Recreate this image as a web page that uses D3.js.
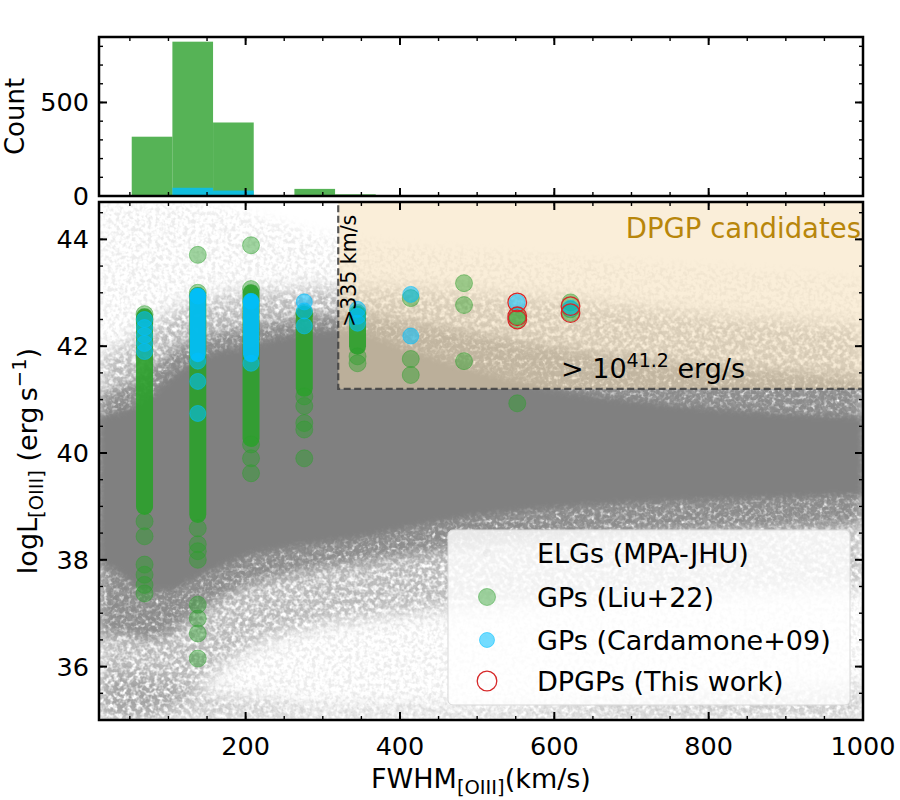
<!DOCTYPE html>
<html><head><meta charset="utf-8">
<script src="https://cdn.jsdelivr.net/npm/d3@7"></script>
<style>body{margin:0;background:#fff}svg{font-family:"DejaVu Sans",sans-serif}</style>
</head><body><svg id="c" width="900" height="800"></svg>
<script>
// ---------------- data ----------------
const histEdges = [52.4, 105.1, 157.8, 210.5, 263.2, 315.9, 368.6, 421.3, 474.0, 526.7, 579.4, 632.1];
const histLiu   = [317, 825, 393, 0, 38, 9, 4, 0, 3, 4, 3];
const histCard  = [0, 44, 29, 0, 3, 3, 2, 0, 0, 1, 1];

// ELG (MPA-JHU) cloud envelopes, logL vs FWHM (density levels)
const elgFwhm    = [10, 40, 70, 100, 130, 160, 200, 250, 300, 350, 400, 500, 600, 700, 800, 900, 1000];
const elgCoreHi  = [40.7, 40.8, 41.0, 41.4, 41.7, 41.9, 42.0, 42.2, 42.3, 42.25, 42.0, 41.55, 41.2, 41.0, 40.85, 40.75, 40.7];
const elgCoreLo  = [37.95, 37.7, 37.4, 37.4, 37.6, 37.8, 38.05, 38.2, 38.3, 38.4, 38.55, 38.8, 38.95, 39.05, 39.1, 39.15, 39.2];
const elgInnerHi = [41.1, 41.25, 41.5, 41.85, 42.1, 42.25, 42.35, 42.5, 42.6, 42.6, 42.5, 42.25, 42.0, 41.8, 41.65, 41.55, 41.45];
const elgInnerLo = [36.5, 36.6, 36.5, 36.6, 36.9, 37.2, 37.5, 37.7, 37.85, 37.95, 38.05, 38.25, 38.4, 38.5, 38.55, 38.6, 38.65];
const elgMidHi   = [41.8, 42.0, 42.3, 42.6, 42.8, 42.9, 43.0, 43.05, 43.1, 43.1, 43.1, 43.0, 42.9, 42.75, 42.6, 42.5, 42.4];
const elgMidLo   = [35.0, 35.0, 35.0, 35.2, 35.5, 35.9, 36.3, 36.6, 36.8, 36.9, 37.0, 37.1, 37.2, 37.3, 37.35, 37.4, 37.45];
const elgOuterHi = [44.7, 44.7, 44.7, 44.7, 44.7, 44.6, 44.5, 44.3, 44.1, 44.0, 43.9, 43.8, 43.7, 43.6, 43.5, 43.4, 43.3];
const elgOuterLo = [35, 35, 35, 35, 35, 35, 35, 35, 35, 35, 35, 35, 35, 35, 35, 35, 35];
const elgFloorHi = [35.9, 35.9, 35.8, 35.7, 35.6, 35.5, 35.4, 35.3, 35.2, 35.2, 35.2, 35.2, 35.3, 35.4, 35.5, 35.6, 35.7];

// GPs (Liu+22): densely packed runs and individual points
const liuRunFwhm = [69, 138, 207, 276, 345];
const liuRunLo   = [39.0, 38.85, 40.27, 41.21, 42.0];
const liuRunHi   = [42.55, 42.95, 43.0, 42.6, 42.6];
const liuFwhm = [69, 69, 69, 69, 69, 69, 69, 69,
                 138, 138, 138, 138, 138, 138, 138, 138, 138, 138,
                 207, 207, 207, 207, 207,
                 276, 276, 276, 276, 276, 276,
                 345, 345, 345,
                 414, 414, 414,
                 483, 483, 483,
                 552, 552, 552,
                 621, 621, 621];
const liuLogL = [42.6, 42.5, 38.72, 38.44, 37.91, 37.72, 37.53, 37.37,
                 43.71, 43.0, 38.59, 38.29, 38.16, 38.0, 37.16, 36.9, 36.62, 36.15,
                 43.89, 43.07, 40.16, 39.9, 39.62,
                 42.62, 41.06, 40.88, 40.56, 40.44, 39.9,
                 42.62, 41.81, 41.68,
                 42.9, 41.76, 41.46,
                 43.18, 42.77, 41.72,
                 42.56, 42.5, 40.93,
                 42.82, 42.69, 42.62];

// GPs (Cardamone+09)
const cardRunFwhm = [138, 207];
const cardRunLo   = [41.85, 41.85];
const cardRunHi   = [42.94, 42.84];
const cardFwhm = [69, 69, 69, 69, 69, 138, 138, 138, 138, 207, 207, 276, 276, 276, 345, 345, 345, 414, 414, 552, 621];
const cardLogL = [42.5, 42.35, 42.2, 42.05, 41.9, 42.94, 41.72, 41.34, 40.74, 42.84, 41.68, 42.83, 42.66, 42.38, 42.69, 42.56, 42.43, 42.97, 42.19, 42.82, 42.71];

// DPGPs (this work)
const dpgpFwhm = [552, 552, 552, 621, 621];
const dpgpLogL = [42.82, 42.56, 42.5, 42.75, 42.62];

// selection box
const boxFwhm = 320, boxLogL = 41.2;

// ticks
const xMajor = [200, 400, 600, 800, 1000];
const xMinor = d3.range(50, 1001, 50);
const yMajor = [36, 38, 40, 42, 44];
const yMinor = d3.range(35, 44.71, 0.5);
const hMajor = [0, 500];
const hMinor = d3.range(0, 851, 100);

const legendLabels = ["ELGs (MPA-JHU)", "GPs (Liu+22)", "GPs (Cardamone+09)", "DPGPs (This work)"];

// ---------------- layout ----------------
const L = 99, R = 863, mTop = 202, mBot = 720, hTop = 37, hBot = 196;
const x  = d3.scaleLinear([10, 1000], [L, R]);
const y  = d3.scaleLinear([35, 44.7], [mBot, mTop]);
const yh = d3.scaleLinear([0, 850], [hBot, hTop]);

const GREEN = "#2ca02c", BLUE = "#00bfff", RED = "#d62728";
const svg = d3.select("#c");
const defs = svg.append("defs");
defs.append("clipPath").attr("id", "clipM").append("rect")
  .attr("x", L).attr("y", mTop).attr("width", R - L).attr("height", mBot - mTop);
defs.append("clipPath").attr("id", "clipH").append("rect")
  .attr("x", L).attr("y", hTop).attr("width", R - L).attr("height", hBot - hTop);

function speckle(id, freq, a, b, blur, seed) {
  const f = defs.append("filter").attr("id", id).attr("filterUnits", "userSpaceOnUse")
    .attr("x", L).attr("y", mTop).attr("width", R - L).attr("height", mBot - mTop);
  f.append("feTurbulence").attr("type", "fractalNoise").attr("baseFrequency", freq)
    .attr("numOctaves", 2).attr("seed", seed).attr("result", "noise");
  f.append("feColorMatrix").attr("in", "noise").attr("type", "matrix")
    .attr("values", `0 0 0 0 0.5  0 0 0 0 0.5  0 0 0 0 0.5  ${a} 0 0 0 ${b}`).attr("result", "mask");
  f.append("feGaussianBlur").attr("in", "SourceGraphic").attr("stdDeviation", blur).attr("result", "soft");
  f.append("feComposite").attr("in", "soft").attr("in2", "mask").attr("operator", "in");
}
speckle("speckMid", 0.22, 3.2, -0.9, 9, 7);
speckle("speckIn", 0.25, 3.0, -0.55, 6, 11);
speckle("speckOut", 0.25, 4, -1.7, 6, 3);

const sf = defs.append("filter").attr("id", "soft").attr("filterUnits", "userSpaceOnUse")
  .attr("x", L).attr("y", mTop).attr("width", R - L).attr("height", mBot - mTop);
sf.append("feGaussianBlur").attr("stdDeviation", 3);

// ---------------- histogram ----------------
const gh = svg.append("g").attr("clip-path", "url(#clipH)");
function bars(counts, color) {
  gh.selectAll(null).data(counts.map((c, i) => ({c, i}))).join("rect")
    .attr("x", d => x(histEdges[d.i]))
    .attr("width", d => x(histEdges[d.i + 1]) - x(histEdges[d.i]))
    .attr("y", d => yh(d.c))
    .attr("height", d => yh(0) - yh(d.c))
    .attr("fill", color).attr("fill-opacity", 0.8);
}
bars(histLiu, GREEN);
bars(histCard, BLUE);

// ---------------- main panel ----------------
const gm = svg.append("g").attr("clip-path", "url(#clipM)");
const band = (lo, hi) => d3.area().x((d, i) => x(elgFwhm[i])).y0((d, i) => y(lo[i])).y1((d, i) => y(hi[i])).curve(d3.curveMonotoneX)(elgFwhm);

gm.append("path").attr("d", band(elgOuterLo, elgOuterHi)).attr("fill", "#808080")
  .attr("opacity", 0.14).attr("filter", "url(#speckOut)");
gm.append("path").attr("d", band(elgOuterLo, elgFloorHi)).attr("fill", "#808080")
  .attr("opacity", 0.4).attr("filter", "url(#speckMid)");
gm.append("path").attr("d", band(elgMidLo, elgMidHi)).attr("fill", "#808080")
  .attr("opacity", 0.5).attr("filter", "url(#speckMid)");
gm.append("path").attr("d", band(elgInnerLo, elgInnerHi)).attr("fill", "#808080")
  .attr("opacity", 0.8).attr("filter", "url(#speckIn)");
gm.append("path").attr("d", band(elgCoreLo, elgCoreHi)).attr("fill", "#808080")
  .attr("filter", "url(#soft)");

// DPGP box
gm.append("rect").attr("x", x(boxFwhm)).attr("y", mTop - 5)
  .attr("width", R - x(boxFwhm) + 5).attr("height", y(boxLogL) - mTop + 5)
  .attr("fill", "#f5deb3").attr("fill-opacity", 0.5)
  .attr("stroke", "#444").attr("stroke-opacity", 0.9).attr("stroke-width", 2.2).attr("stroke-dasharray", "7,3.5");

// dense runs
function runs(fw, lo, hi, color, r, op) {
  gm.selectAll(null).data(fw.map((f, i) => i)).join("line")
    .attr("x1", i => x(fw[i])).attr("x2", i => x(fw[i]))
    .attr("y1", i => y(lo[i])).attr("y2", i => y(hi[i]))
    .attr("stroke", color).attr("stroke-width", 2 * r).attr("stroke-linecap", "round")
    .attr("stroke-opacity", op);
}
function dots(fw, ll, color, r, op) {
  gm.selectAll(null).data(fw.map((f, i) => i)).join("circle")
    .attr("cx", i => x(fw[i])).attr("cy", i => y(ll[i])).attr("r", r)
    .attr("fill", color).attr("fill-opacity", op)
    .attr("stroke", color).attr("stroke-opacity", op).attr("stroke-width", 1);
}
runs(liuRunFwhm, liuRunLo, liuRunHi, GREEN, 8.5, 0.92);
dots(liuFwhm, liuLogL, GREEN, 8.5, 0.45);
runs(cardRunFwhm, cardRunLo, cardRunHi, BLUE, 8, 0.9);
dots(cardFwhm, cardLogL, BLUE, 8, 0.55);
gm.selectAll(null).data(dpgpFwhm.map((f, i) => i)).join("circle")
  .attr("cx", i => x(dpgpFwhm[i])).attr("cy", i => y(dpgpLogL[i])).attr("r", 9.3)
  .attr("fill", "none").attr("stroke", RED).attr("stroke-width", 1.3);

// annotations
svg.append("text").attr("x", 861).attr("y", 238).attr("text-anchor", "end")
  .attr("font-size", 27.5).attr("fill", "#b8860b").text("DPGP candidates");
const t41 = svg.append("text").attr("x", 561).attr("y", 378).attr("font-size", 27).attr("fill", "#000");
t41.append("tspan").text("> 10");
t41.append("tspan").attr("dy", -11).attr("font-size", 19).text("41.2");
t41.append("tspan").attr("dy", 11).text(" erg/s");
svg.append("text").attr("transform", "translate(356,327) rotate(-90)")
  .attr("font-size", 20.5).attr("fill", "#000").text(">335 km/s");

// legend
const lg = svg.append("g");
lg.append("rect").attr("x", 448).attr("y", 530).attr("width", 402).attr("height", 175).attr("rx", 5)
  .attr("fill", "#fff").attr("fill-opacity", 0.8).attr("stroke", "#d9d9d9").attr("stroke-width", 1);
const ly = [553, 597, 640, 681];
lg.selectAll(null).data(legendLabels).join("text")
  .attr("x", 537).attr("y", (d, i) => ly[i] + 10).attr("font-size", 27).text(d => d);
lg.append("circle").attr("cx", 487).attr("cy", ly[0]).attr("r", 4).attr("fill", "#808080").attr("fill-opacity", 0.06);
lg.append("circle").attr("cx", 487).attr("cy", ly[1]).attr("r", 8.5).attr("fill", GREEN).attr("fill-opacity", 0.45)
  .attr("stroke", GREEN).attr("stroke-opacity", 0.45);
lg.append("circle").attr("cx", 487).attr("cy", ly[2]).attr("r", 7.5).attr("fill", BLUE).attr("fill-opacity", 0.55)
  .attr("stroke", BLUE).attr("stroke-opacity", 0.55);
lg.append("circle").attr("cx", 487).attr("cy", ly[3]).attr("r", 9.8).attr("fill", "none")
  .attr("stroke", RED).attr("stroke-width", 1.3);

// ---------------- frames and ticks ----------------
const fr = svg.append("g").attr("stroke", "#000");
function xTicks(vals, yb, yt, len, w) {
  fr.selectAll(null).data(vals).join("line").attr("x1", v => x(v)).attr("x2", v => x(v))
    .attr("y1", yb).attr("y2", yb - len).attr("stroke-width", w);
  fr.selectAll(null).data(vals).join("line").attr("x1", v => x(v)).attr("x2", v => x(v))
    .attr("y1", yt).attr("y2", yt + len).attr("stroke-width", w);
}
function yTicks(sc, vals, len, w) {
  fr.selectAll(null).data(vals).join("line").attr("x1", L).attr("x2", L + len)
    .attr("y1", v => sc(v)).attr("y2", v => sc(v)).attr("stroke-width", w);
  fr.selectAll(null).data(vals).join("line").attr("x1", R).attr("x2", R - len)
    .attr("y1", v => sc(v)).attr("y2", v => sc(v)).attr("stroke-width", w);
}
xTicks(xMinor, mBot, mTop, 4, 1.4);
xTicks(xMajor, mBot, mTop, 8, 2);
xTicks(xMinor, hBot, hTop, 4, 1.4);
xTicks(xMajor, hBot, hTop, 8, 2);
yTicks(y, yMinor, 4, 1.4);
yTicks(y, yMajor, 8, 2);
yTicks(yh, hMinor, 4, 1.4);
yTicks(yh, hMajor, 8, 2);
fr.append("rect").attr("x", L).attr("y", mTop).attr("width", R - L).attr("height", mBot - mTop)
  .attr("fill", "none").attr("stroke-width", 2.5);
fr.append("rect").attr("x", L).attr("y", hTop).attr("width", R - L).attr("height", hBot - hTop)
  .attr("fill", "none").attr("stroke-width", 2.5);

// tick labels
const tl = svg.append("g").attr("font-size", 25.5).attr("fill", "#000");
tl.selectAll(null).data(xMajor).join("text").attr("x", v => x(v)).attr("y", 755)
  .attr("text-anchor", "middle").text(v => v);
tl.selectAll(null).data(yMajor).join("text").attr("x", L - 10).attr("y", v => y(v) + 9)
  .attr("text-anchor", "end").text(v => v);
tl.selectAll(null).data(hMajor).join("text").attr("x", L - 10).attr("y", v => yh(v) + 9)
  .attr("text-anchor", "end").text(v => v);

// axis titles
const xl = svg.append("text").attr("x", (L + R) / 2).attr("y", 788).attr("text-anchor", "middle").attr("font-size", 27);
xl.append("tspan").text("FWHM");
xl.append("tspan").attr("dy", 6).attr("font-size", 19.5).text("[OIII]");
xl.append("tspan").attr("dy", -6).text("(km/s)");
const yl = svg.append("text").attr("transform", `translate(37,${(mTop + mBot) / 2}) rotate(-90)`)
  .attr("text-anchor", "middle").attr("font-size", 27);
yl.append("tspan").text("logL");
yl.append("tspan").attr("dy", 6).attr("font-size", 19.5).text("[OIII]");
yl.append("tspan").attr("dy", -6).text(" (erg\u2009s");
yl.append("tspan").attr("dy", -11).attr("font-size", 19.5).text("\u22121");
yl.append("tspan").attr("dy", 11).text(")");
svg.append("text").attr("transform", `translate(24,${(hTop + hBot) / 2}) rotate(-90)`)
  .attr("text-anchor", "middle").attr("font-size", 26).text("Count");
</script></body></html>
